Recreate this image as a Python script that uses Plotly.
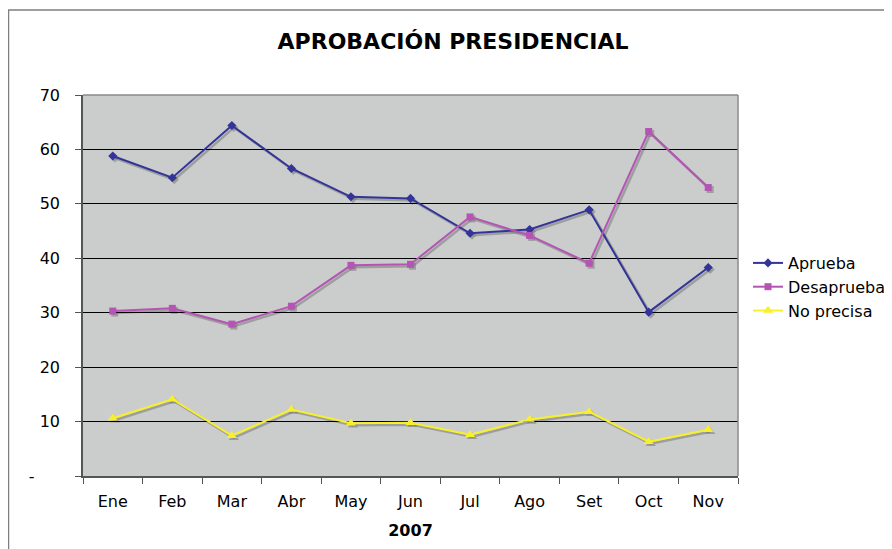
import plotly.graph_objects as go

meses = ["Ene", "Feb", "Mar", "Abr", "May", "Jun", "Jul", "Ago", "Set", "Oct", "Nov"]
aprueba = [58.8, 54.8, 64.4, 56.5, 51.3, 51.0, 44.6, 45.3, 48.9, 30.1, 38.3]
desaprueba = [30.3, 30.8, 27.9, 31.2, 38.7, 38.9, 47.6, 44.2, 39.1, 63.3, 53.0]
no_precisa = [10.6, 14.1, 7.4, 12.2, 9.7, 9.8, 7.6, 10.4, 11.8, 6.3, 8.5]
y_ticks = [0, 10, 20, 30, 40, 50, 60, 70]
y_labels = ["-\u00a0\u00a0\u00a0\u00a0\u00a0", "10", "20", "30", "40", "50", "60", "70"]

W, H = 892, 549
ml, mr, mt, mb = 75, 160, 87, 79
pw, ph = W - ml - mr, H - mt - mb
sh = 2  # shadow offset in px

def px(x):
    return (x - ml) / pw

def py(y):
    return (H - mb - y) / ph

fig = go.Figure()
series = [
    ("Aprueba", aprueba, "#333399", "diamond", 7),
    ("Desaprueba", desaprueba, "#B455B4", "square", 7),
    ("No precisa", no_precisa, "#F8F02A", "triangle-up", 9),
]
# shadows (drawn on offset subplot, underneath)
for name, vals, col, sym, sz in series:
    fig.add_trace(go.Scatter(
        x=meses, y=vals, mode="lines+markers", showlegend=False, hoverinfo="skip",
        line=dict(color="rgba(120,120,120,0.55)", width=2.5),
        marker=dict(symbol=sym, size=sz, color="rgba(120,120,120,0.55)"),
        xaxis="x", yaxis="y",
    ))
for name, vals, col, sym, sz in series:
    fig.add_trace(go.Scatter(
        x=meses, y=vals, name=name, mode="lines+markers",
        line=dict(color=col, width=2),
        marker=dict(symbol=sym, size=sz, color=col),
        xaxis="x2", yaxis="y2",
    ))

x_main = 1 - sh / pw
y_main = sh / ph

# background of plot area
fig.add_shape(type="rect", xref="paper", yref="paper",
              x0=0, x1=x_main, y0=y_main, y1=1,
              line=dict(width=0), fillcolor="#CBCDCD", layer="below")
# outer chart frame
fig.add_shape(type="rect", xref="paper", yref="paper",
              x0=px(0.5), x1=px(905), y0=py(560), y1=py(2),
              line=dict(color="#7f7f7f", width=1.5), fillcolor="rgba(0,0,0,0)", layer="below")

fig.update_layout(
    width=W, height=H,
    margin=dict(l=ml, r=mr, t=mt, b=mb, autoexpand=False),
    paper_bgcolor="white",
    plot_bgcolor="rgba(0,0,0,0)",
    font=dict(family="DejaVu Sans", size=16, color="black"),
    title=dict(text="<b>APROBACIÓN PRESIDENCIAL</b>", x=445 / W, xanchor="center",
               y=1 - 33 / H, yanchor="middle", font=dict(size=22)),
    xaxis=dict(type="category", range=[-0.5, 10.5], domain=[sh / pw, 1],
               visible=False, anchor="y"),
    yaxis=dict(range=[0, 70], domain=[0, 1 - sh / ph], visible=False, anchor="x"),
    xaxis2=dict(
        type="category", range=[-0.5, 10.5], domain=[0, x_main], anchor="y2",
        showgrid=False,
        showline=True, linecolor="#555555", linewidth=1.5,
        ticks="outside", tickson="boundaries", ticklen=6, tickcolor="#555555",
        ticklabelstandoff=10,
        title=dict(text="<b>2007</b>", font=dict(size=16), standoff=15),
        tickfont=dict(size=16),
    ),
    yaxis2=dict(
        range=[0, 70], domain=[y_main, 1], anchor="x2",
        tickvals=y_ticks, ticktext=y_labels,
        showgrid=True, gridcolor="black", gridwidth=1,
        showline=True, linecolor="#555555", linewidth=1.5,
        ticks="outside", ticklen=6, tickcolor="#555555",
        ticklabelstandoff=12,
        tickfont=dict(size=16), zeroline=False,
    ),
    legend=dict(x=px(740), y=py(238), xanchor="left", yanchor="top",
                font=dict(size=16), tracegroupgap=0, itemwidth=30,
                bgcolor="rgba(0,0,0,0)"),
    showlegend=True,
)
# top/right plot border
fig.add_shape(type="line", xref="paper", yref="paper", x0=0, x1=x_main, y0=1, y1=1,
              line=dict(color="#8a8a8a", width=1.5))
fig.add_shape(type="line", xref="paper", yref="paper", x0=x_main, x1=x_main, y0=y_main, y1=1,
              line=dict(color="#8a8a8a", width=1.5))

fig.write_html("out.html")
